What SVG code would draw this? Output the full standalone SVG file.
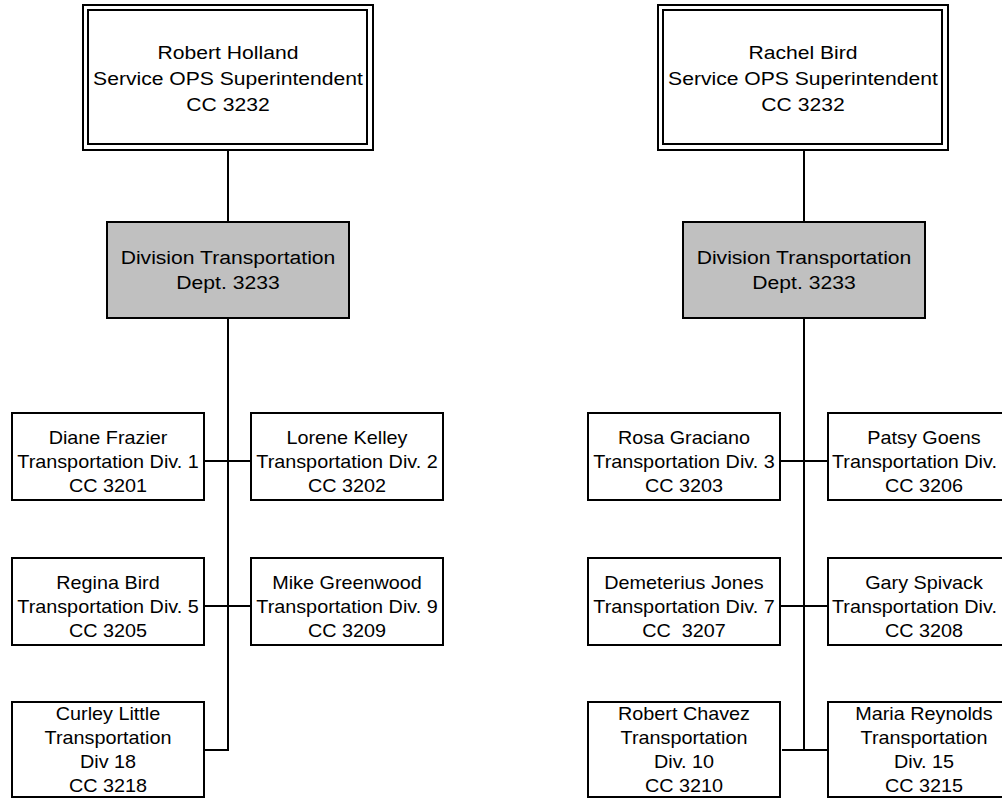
<svg xmlns="http://www.w3.org/2000/svg" width="1002" height="798" viewBox="0 0 1002 798">
<style>
.bg{fill:#ffffff}
.box{fill:#ffffff;stroke:#000;stroke-width:2}
.dept{fill:#c0c0c0;stroke:#000;stroke-width:2}
.conn{fill:none;stroke:#000;stroke-width:2}
text{font-family:"Liberation Sans",Arial,sans-serif;fill:#000;text-anchor:middle}
.t1{font-size:19.2px}
.t2{font-size:19.2px}
.t3{font-size:18px}
.st{text-anchor:start}
</style>
<rect class="bg" x="0" y="0" width="1002" height="798"/>
<g id="connectors">
<path class="conn" d="M228 150V222M228 318V750H204M204 461H251M204 606H251"/>
<path class="conn" d="M804 150V222M804 318V750M780 461H828M780 606H828M782 750H828"/>
</g>
<g id="holland">
<rect class="box" x="83" y="5" width="290" height="145"/>
<rect class="box" x="88" y="10" width="279" height="134"/>
<text class="t1" transform="translate(228 59) scale(1.1 1)"><tspan x="0" y="0">Robert Holland</tspan><tspan x="0" y="26">Service OPS Superintendent</tspan><tspan x="0" y="52">CC 3232</tspan></text>
</g>
<g id="bird">
<rect class="box" x="658" y="5" width="290" height="145"/>
<rect class="box" x="663" y="10" width="279" height="134"/>
<text class="t1" transform="translate(803 59) scale(1.1 1)"><tspan x="0" y="0">Rachel Bird</tspan><tspan x="0" y="26">Service OPS Superintendent</tspan><tspan x="0" y="52">CC 3232</tspan></text>
</g>
<g id="dept-left">
<rect class="dept" x="107" y="222" width="242" height="96"/>
<text class="t2" transform="translate(228 264) scale(1.1 1)"><tspan x="0" y="0">Division Transportation</tspan><tspan x="0" y="25">Dept. 3233</tspan></text>
</g>
<g id="dept-right">
<rect class="dept" x="683" y="222" width="242" height="96"/>
<text class="t2" transform="translate(804 264) scale(1.1 1)"><tspan x="0" y="0">Division Transportation</tspan><tspan x="0" y="25">Dept. 3233</tspan></text>
</g>
<g id="frazier">
<rect class="box" x="12" y="413" width="192" height="87"/>
<text class="t3" transform="translate(108 444) scale(1.1 1)"><tspan x="0" y="0">Diane Frazier</tspan><tspan x="0" y="24">Transportation Div. 1</tspan><tspan x="0" y="48">CC 3201</tspan></text>
</g>
<g id="kelley">
<rect class="box" x="251" y="413" width="192" height="87"/>
<text class="t3" transform="translate(347 444) scale(1.1 1)"><tspan x="0" y="0">Lorene Kelley</tspan><tspan x="0" y="24">Transportation Div. 2</tspan><tspan x="0" y="48">CC 3202</tspan></text>
</g>
<g id="regina">
<rect class="box" x="12" y="558" width="192" height="87"/>
<text class="t3" transform="translate(108 589) scale(1.1 1)"><tspan x="0" y="0">Regina Bird</tspan><tspan x="0" y="24">Transportation Div. 5</tspan><tspan x="0" y="48">CC 3205</tspan></text>
</g>
<g id="greenwood">
<rect class="box" x="251" y="558" width="192" height="87"/>
<text class="t3" transform="translate(347 589) scale(1.1 1)"><tspan x="0" y="0">Mike Greenwood</tspan><tspan x="0" y="24">Transportation Div. 9</tspan><tspan x="0" y="48">CC 3209</tspan></text>
</g>
<g id="little">
<rect class="box" x="12" y="702" width="192" height="95"/>
<text class="t3" transform="translate(108 720) scale(1.1 1)"><tspan x="0" y="0">Curley Little</tspan><tspan x="0" y="24">Transportation</tspan><tspan x="0" y="48">Div 18</tspan><tspan x="0" y="72">CC 3218</tspan></text>
</g>
<g id="graciano">
<rect class="box" x="588" y="413" width="192" height="87"/>
<text class="t3" transform="translate(684 444) scale(1.1 1)"><tspan x="0" y="0">Rosa Graciano</tspan><tspan x="0" y="24">Transportation Div. 3</tspan><tspan x="0" y="48">CC 3203</tspan></text>
</g>
<g id="goens">
<rect class="box" x="828" y="413" width="192" height="87"/>
<text class="t3" transform="translate(924 444) scale(1.1 1)"><tspan x="0" y="0">Patsy Goens</tspan><tspan x="0" y="48">CC 3206</tspan></text>
<text class="t3 st" transform="translate(832 468) scale(1.1 1)">Transportation Div.</text>
</g>
<g id="jones">
<rect class="box" x="588" y="558" width="192" height="87"/>
<text class="t3" transform="translate(684 589) scale(1.1 1)" xml:space="preserve"><tspan x="0" y="0">Demeterius Jones</tspan><tspan x="0" y="24">Transportation Div. 7</tspan><tspan x="0" y="48">CC  3207</tspan></text>
</g>
<g id="spivack">
<rect class="box" x="828" y="558" width="192" height="87"/>
<text class="t3" transform="translate(924 589) scale(1.1 1)"><tspan x="0" y="0">Gary Spivack</tspan><tspan x="0" y="48">CC 3208</tspan></text>
<text class="t3 st" transform="translate(832 613) scale(1.1 1)">Transportation Div.</text>
</g>
<g id="chavez">
<rect class="box" x="588" y="702" width="192" height="95"/>
<text class="t3" transform="translate(684 720) scale(1.1 1)"><tspan x="0" y="0">Robert Chavez</tspan><tspan x="0" y="24">Transportation</tspan><tspan x="0" y="48">Div. 10</tspan><tspan x="0" y="72">CC 3210</tspan></text>
</g>
<g id="reynolds">
<rect class="box" x="828" y="702" width="192" height="95"/>
<text class="t3" transform="translate(924 720) scale(1.1 1)"><tspan x="0" y="0">Maria Reynolds</tspan><tspan x="0" y="24">Transportation</tspan><tspan x="0" y="48">Div. 15</tspan><tspan x="0" y="72">CC 3215</tspan></text>
</g>
</svg>
